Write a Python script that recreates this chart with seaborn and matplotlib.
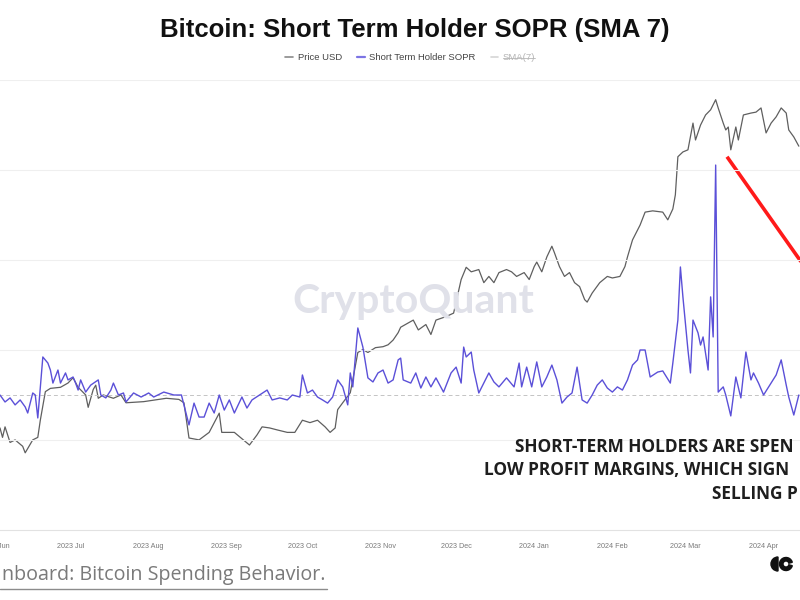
import numpy as np
import pandas as pd
import matplotlib
matplotlib.use('Agg')
import matplotlib.pyplot as plt
import matplotlib.dates as mdates
import matplotlib.patches as mpatches
from matplotlib.lines import Line2D
import seaborn as sns

# day 0 = left edge of the cropped screenshot
START = pd.Timestamp('2023-06-03')

# Short Term Holder SOPR (SMA 7)
sopr_days = [
    0, 2, 4, 6, 8, 10, 11, 13, 14, 15,
    17, 19, 20, 21, 23, 24, 26, 27, 29, 30,
    31, 32, 34, 36, 39, 40, 42, 44, 45, 47,
    49, 50, 53, 56, 59, 61, 65, 69, 72, 75,
    77, 79, 81, 83, 85, 87, 89, 91, 93, 96,
    98, 100, 103, 106, 108, 111, 114, 116, 119, 120,
    122, 124, 126, 128, 130, 132, 134, 136, 138, 139,
    140, 142, 144, 146, 148, 150, 152, 154, 156, 158,
    159, 160, 163, 165, 167, 169, 171, 173, 176, 179,
    181, 183, 184, 185, 187, 188, 190, 194, 196, 198,
    201, 204, 206, 207, 209, 211, 213, 215, 217, 219,
    221, 223, 225, 227, 229, 231, 233, 235, 237, 239,
    241, 243, 245, 247, 249, 251, 253, 254, 256, 258,
    261, 263, 266, 267, 269, 270, 271, 273, 274, 275,
    277, 278, 279, 281, 282, 283, 284, 285, 287, 288,
    290, 292, 294, 296, 298, 299, 301, 303, 306, 308,
    310, 312, 313, 315, 317,
]
sopr_values = [
    1.0000, 0.9969, 0.9987, 0.9956, 0.9978, 0.9947, 0.9920, 1.0009, 1.0000, 0.9898,
    1.0169, 1.0142, 1.0111, 1.0053, 1.0111, 1.0053, 1.0098, 1.0067, 1.0080, 1.0053,
    1.0022, 1.0067, 1.0013, 1.0044, 1.0067, 1.0000, 0.9987, 1.0022, 1.0053, 1.0000,
    1.0009, 0.9969, 1.0009, 0.9991, 1.0009, 0.9991, 1.0013, 1.0000, 1.0000, 0.9867,
    0.9964, 0.9902, 0.9902, 0.9964, 0.9920, 1.0000, 0.9933, 0.9978, 0.9920, 0.9991,
    0.9942, 0.9978, 1.0000, 1.0022, 0.9978, 0.9987, 0.9978, 1.0000, 0.9991, 1.0089,
    1.0009, 1.0022, 0.9991, 0.9978, 0.9964, 0.9991, 1.0067, 1.0036, 0.9956, 1.0098,
    1.0036, 1.0298, 1.0213, 1.0076, 1.0058, 1.0098, 1.0111, 1.0053, 1.0067, 1.0156,
    1.0164, 1.0067, 1.0053, 1.0098, 1.0031, 1.0080, 1.0036, 1.0076, 1.0013, 1.0098,
    1.0124, 1.0053, 1.0213, 1.0169, 1.0191, 1.0111, 1.0009, 1.0098, 1.0058, 1.0036,
    1.0076, 1.0036, 1.0142, 1.0036, 1.0124, 1.0036, 1.0147, 1.0036, 1.0080, 1.0133,
    1.0067, 0.9964, 0.9991, 1.0009, 1.0124, 0.9978, 0.9964, 1.0000, 1.0044, 1.0067,
    1.0031, 1.0013, 1.0036, 1.0022, 1.0067, 1.0133, 1.0156, 1.0200, 1.0200, 1.0080,
    1.0102, 1.0107, 1.0053, 1.0142, 1.0333, 1.0569, 1.0436, 1.0200, 1.0098, 1.0333,
    1.0276, 1.0222, 1.0258, 1.0111, 1.0436, 1.0258, 1.1022, 1.0013, 1.0036, 1.0000,
    0.9907, 1.0080, 0.9987, 1.0191, 1.0067, 1.0098, 1.0053, 1.0000, 1.0053, 1.0089,
    1.0156, 1.0044, 0.9991, 0.9911, 1.0000,
]

# BTC price, thousands of USD
price_days = [
    0, 1, 2, 4, 6, 9, 10, 13, 15, 16,
    18, 20, 24, 27, 29, 31, 34, 35, 37, 38,
    39, 41, 45, 48, 50, 57, 63, 66, 71, 73,
    75, 79, 83, 87, 88, 93, 99, 102, 104, 107,
    110, 114, 117, 120, 123, 126, 129, 131, 133, 134,
    136, 139, 140, 142, 144, 146, 149, 152, 154, 156,
    158, 159, 164, 166, 169, 171, 173, 177, 180, 183,
    185, 187, 190, 192, 194, 196, 198, 201, 203, 205,
    208, 210, 212, 213, 215, 217, 219, 220, 222, 224,
    226, 228, 230, 232, 233, 235, 238, 241, 243, 246,
    248, 249, 251, 254, 256, 259, 263, 265, 267, 268,
    269, 271, 273, 275, 276, 278, 280, 282, 284, 285,
    287, 288, 289, 290, 292, 293, 295, 298, 300, 302,
    304, 306, 308, 310, 312, 313, 315, 317,
]
price_k = [
    26.96, 26.2, 27.05, 25.8, 26.0, 25.5, 25.0, 26.0, 26.2, 27.6,
    30.1, 30.4, 30.5, 30.9, 31.4, 30.5, 29.8, 28.7, 30.3, 30.7,
    29.5, 29.8, 29.5, 29.8, 29.1, 29.2, 29.4, 29.5, 29.4, 29.1,
    26.15, 26.0, 26.6, 28.2, 26.6, 26.6, 25.6, 26.4, 27.05, 26.96,
    26.8, 26.6, 26.6, 27.6, 27.4, 27.6, 27.05, 26.6, 26.96, 28.5,
    29.1, 30.0, 31.2, 33.9, 34.2, 33.9, 34.4, 34.5, 34.7, 35.2,
    36.0, 36.6, 37.4, 36.3, 36.9, 35.8, 37.4, 37.8, 38.2, 42.3,
    43.9, 43.3, 43.6, 41.9, 42.7, 41.9, 43.2, 43.6, 43.3, 42.7,
    43.2, 42.3, 44.0, 44.6, 43.3, 45.3, 46.8, 45.9, 44.0, 42.7,
    43.2, 41.9, 41.4, 39.8, 39.5, 40.6, 41.9, 42.7, 42.5, 42.7,
    44.0, 45.3, 47.7, 49.9, 51.9, 52.1, 51.9, 50.7, 52.4, 54.7,
    61.4, 62.3, 62.7, 68.0, 64.6, 67.6, 69.7, 70.8, 73.0, 71.2,
    68.0, 66.6, 67.2, 62.7, 67.2, 64.6, 69.7, 70.1, 70.3, 71.2,
    66.0, 68.0, 69.3, 71.2, 70.1, 66.6, 65.2, 63.4,
]

# red trend line drawn on the screenshot (price axis)
trend_days = [288.5, 333.0]
trend_price_k = [61.4, 37.9]

title = 'Bitcoin: Short Term Holder SOPR (SMA 7)'
legend_labels = ['Price USD', 'Short Term Holder SOPR', 'SMA(7)']
# the screenshot cuts these off at its edges
note_lines = [
    'SHORT-TERM HOLDERS ARE SPEN',
    'LOW PROFIT MARGINS, WHICH SIGN',
    'SELLING P',
]
link_text = 'nboard: Bitcoin Spending Behavior.'
watermark = 'CryptoQuant'

PRICE_COLOR = '#5f5f5f'
SOPR_COLOR = '#5b50d8'


def main():
    sns.set_style('white')
    plt.rcParams['font.family'] = ['Liberation Sans', 'DejaVu Sans']

    sopr = pd.DataFrame({'date': START + pd.to_timedelta(sopr_days, unit='D'),
                         'sopr': sopr_values})
    price = pd.DataFrame({'date': START + pd.to_timedelta(price_days, unit='D'),
                          'price': np.array(price_k) * 1000})
    trend = pd.DataFrame({'date': START + pd.to_timedelta(trend_days, unit='D'),
                          'price': np.array(trend_price_k) * 1000})

    fig = plt.figure(figsize=(8, 6), dpi=100)
    # the screenshot is cropped, so the plot area runs past both figure edges
    ax = fig.add_axes([-0.05, 70 / 600, 1.075, 450 / 600])
    ax2 = ax.twinx()

    sns.lineplot(data=price, x='date', y='price', ax=ax2, color=PRICE_COLOR, lw=0.9)
    ax2.set_yscale('log')
    ax2.set_ylim(19780, 77500)
    sns.lineplot(data=trend, x='date', y='price', ax=ax2, color='#ff1a1a', lw=2.6,
                 solid_capstyle='butt')

    sns.lineplot(data=sopr, x='date', y='sopr', ax=ax, color=SOPR_COLOR, lw=1.0)
    ax.axhline(1.0, color='#c4c4c4', lw=0.7, ls=(0, (4, 3)), zorder=0)
    ax.set_ylim(0.94, 1.14)
    ax.set_yticks([0.98, 1.02, 1.06, 1.10, 1.14])
    ax.yaxis.grid(True, color='#efefef', lw=0.8)
    ax.set_zorder(ax2.get_zorder() + 1)
    ax.patch.set_visible(False)

    ax.set_xlim(START - pd.Timedelta(days=15.87), START + pd.Timedelta(days=325.4))
    ax.xaxis.set_major_locator(mdates.MonthLocator())
    ax.xaxis.set_major_formatter(mdates.DateFormatter('%Y %b'))
    ax.tick_params(axis='x', length=3, width=0.6, color='#d0d0d0', pad=6,
                   labelsize=5.2, labelcolor='#7a7a7a')
    ax.tick_params(axis='y', length=0, labelleft=False)
    ax2.tick_params(axis='y', which='both', length=0, labelright=False)
    for a in (ax, ax2):
        a.set_xlabel('')
        a.set_ylabel('')
        for s in ('top', 'left', 'right'):
            a.spines[s].set_visible(False)
    ax.spines['bottom'].set_color('#e2e2e2')
    ax.spines['bottom'].set_linewidth(0.8)
    ax2.spines['bottom'].set_visible(False)

    fig.text(0.517, 1 - 301 / 600, watermark, family='Lato', fontsize=29.5,
             fontweight='bold', color='#e0e1e9', ha='center', va='center', zorder=0)

    fig.text(0.519, 1 - 30 / 600, title, fontsize=18.5, fontweight='bold',
             ha='center', va='center', color='#111111')

    handles = [Line2D([], [], color='#8a8a8a', lw=1.2),
               Line2D([], [], color='#7c74e4', lw=1.6),
               Line2D([], [], color='#d6d6d6', lw=1.2)]
    leg = fig.legend(handles, legend_labels, ncol=3, loc='center',
                     bbox_to_anchor=(0.513, 1 - 58 / 600), frameon=False,
                     fontsize=6.8, handlelength=0.8, handletextpad=0.5,
                     columnspacing=1.6)
    for t in leg.get_texts():
        t.set_color('#444444')
    leg.get_texts()[2].set_color('#b5b5b5')

    note_x = [515, 484, 712]
    note_y = [447, 470, 494]
    for line, x, y in zip(note_lines, note_x, note_y):
        fig.text(x / 800, 1 - y / 600, line, family=['Open Sans', 'DejaVu Sans'],
                 fontsize=12.4, fontweight='bold', color='#1e1e1e',
                 ha='left', va='center')

    fig.text(0.002, 1 - 575 / 600, link_text, family=['Open Sans', 'DejaVu Sans'],
             fontsize=14.2, color='#7a7a7a', ha='left', va='center')
    fig.add_artist(Line2D([0, 327 / 800], [1 - 589 / 600] * 2, color='#8c8c8c',
                          lw=1.0, transform=fig.transFigure))

    # corner of the CryptoQuant logo (positions in inches, 100 px each)
    fig.add_artist(mpatches.Wedge((7.78, 0.36), 0.07, 90, 270, color='#111111',
                                  transform=fig.dpi_scale_trans))
    fig.add_artist(mpatches.Wedge((7.86, 0.36), 0.065, 15, 345, width=0.035,
                                  color='#111111', transform=fig.dpi_scale_trans))

    # strike through the hidden SMA(7) legend entry
    fig.canvas.draw()
    bb = leg.get_texts()[2].get_window_extent().transformed(fig.transFigure.inverted())
    ym = (bb.y0 + bb.y1) / 2
    fig.add_artist(Line2D([bb.x0, bb.x1], [ym, ym], color='#b5b5b5', lw=0.6,
                          transform=fig.transFigure))

    fig.savefig('out.png', dpi=100)
    plt.close(fig)


if __name__ == '__main__':
    main()
